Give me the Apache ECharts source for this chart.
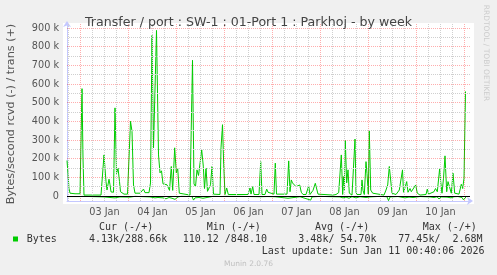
<!DOCTYPE html>
<html><head><meta charset="utf-8">
<script src="https://cdn.jsdelivr.net/npm/echarts@6/dist/echarts.min.js"></script>
<style>html,body{margin:0;padding:0;background:#f0f0f0}#c{width:497px;height:275px}</style>
</head><body><div id="c"></div>
<script>
// time in hours since 03 Jan 00:00, values in k (1000) bytes/second
const transHours = [-6.75,-6.25,-5.75,-5.25,-2.75,-0.25,0.25,0.75,1.25,1.75,2.75,3.25,7.25,10.25,10.75,11.75,12.75,13.25,14.25,14.75,15.25,16,16.5,17.25,18,18.75,19.5,20,20.75,21.75,22.75,23.5,24.25,25,25.75,26.5,27.25,29.75,31.5,32.25,34.25,35,35.75,36.5,38,39,39.75,40.5,41.25,42.25,43.25,44.5,45.4,46.1,47.1,47.9,48.6,49.4,50.25,54.75,55.5,56,56.75,57.5,58.25,59,59.75,60.6,61.4,62,62.75,63.5,64.25,65,65.75,66.5,69.75,70.25,71,71.6,72.25,73.1,73.9,77.75,78.25,83.75,84.75,85.25,86.1,86.75,89.25,90.1,90.75,92.25,93.1,93.75,94.75,96.75,97.4,98,103.25,104.1,104.75,105.4,106,106.75,107.75,108.75,109.6,110.4,111.25,112.75,114.1,114.75,116.25,117.4,118.75,126.25,127.1,127.75,129.1,130.4,131.1,131.4,131.9,132.4,133.1,133.75,134.4,135.25,135.75,136.5,137.25,137.75,138.25,140.25,140.75,141.25,141.9,142.75,143.25,143.9,144.4,145.1,146.1,151.75,152.75,153.6,154.4,155.25,155.75,157.75,159.4,161,161.5,162.25,163.1,163.75,164.75,165.4,166.25,167.6,168.4,169.75,172.75,173.4,174,176.75,177.5,178.4,179.6,180.1,180.75,181.5,182.25,183.1,183.75,184.6,185.4,186.25,187.1,189.25,190.4,191.1,191.75,192.5];
const transK = [190,120,40,15,12,12,15,575,200,5,15,5,5,5,8,220,77,32,90,60,22,30,20,472,120,150,77,23,15,10,20,10,12,400,346,59,15,15,37,18,18,70,860,258,887,220,124,135,65,56,60,30,158,30,258,124,149,15,5,5,8,727,65,50,140,110,100,247,160,40,150,25,25,60,158,10,8,258,382,170,8,43,8,8,12,8,43,10,50,8,8,184,8,8,37,20,10,10,176,10,10,188,23,86,70,80,50,47,59,20,8,8,54,8,30,68,10,5,10,8,18,220,8,104,30,297,70,140,15,20,5,15,305,20,8,8,86,30,8,184,120,10,350,32,15,5,32,59,158,150,15,8,32,140,20,45,77,20,40,23,30,59,15,5,8,37,10,23,40,23,149,77,15,95,215,23,77,86,15,122,15,10,63,40,95,560];
const rcvdHours = [-6.75,-0.25,0.75,1.75,11.75,14.75,17.25,19.75,24.75,27.25,34.75,35.75,37.25,38.75,39.75,41.25,42.75,44.25,45.75,47.25,48.75,50.25,55.75,56.5,57.25,58.25,59.25,60.25,61.25,62.25,63.25,64.75,66.25,70.75,71.5,72.25,79.75,84.75,89.75,93.25,97.25,103.75,104.75,109.75,115.1,115.75,119.75,129.75,131.25,132.75,134.25,135.75,137.75,139.75,142.75,144.75,149.75,153.25,154,154.75,158.75,162.25,163.25,164.25,166.25,169.75,174.75,176.75,178.25,179.25,180.25,183.25,185.25,186.75,188.75,190.75,191.5,192.75];
const rcvdK = [-3,-3,-8,-2,-5,-8,-10,-5,-6,-2,-5,-15,-10,-8,-12,-10,-15,-8,-12,-18,-5,-2,-3,-22,-10,-15,-8,-16,-12,-18,-8,-5,-2,-3,-10,-2,-2,-3,-4,-3,-4,-12,-5,-4,-22,-5,-2,-5,-10,-6,-12,-4,-10,-4,-8,-5,-2,-4,-25,-5,-3,-10,-16,-6,-8,-3,-5,-8,-4,-16,-5,-6,-10,-4,-3,-8,-21,-5];

const yTicks = [0,100000,200000,300000,400000,500000,600000,700000,800000,900000];
const yTickLabels = ['0','100 k','200 k','300 k','400 k','500 k','600 k','700 k','800 k','900 k'];
const yMinor = [50000,150000,250000,350000,450000,550000,650000,750000,850000];
const dayNoon = [12,36,60,84,108,132,156,180];
const dayLabels = ['03 Jan','04 Jan','05 Jan','06 Jan','07 Jan','08 Jan','09 Jan','10 Jan'];
const dayMidnight = [0,24,48,72,96,120,144,168,192];
const sixHour = [-6,6,12,18,30,36,42,54,60,66,78,84,90,102,108,114,126,132,138,150,156,162,174,180,186];

const titleText = 'Transfer / port : SW-1 : 01-Port 1 : Parkhoj - by week';
const yName = 'Bytes/second rcvd (-) / trans (+)';
const legendHeaders = ['Cur (-/+)','Min (-/+)','Avg (-/+)','Max (-/+)'];
const seriesName = 'Bytes';
const legendValues = ['4.13k/288.66k','110.12 /848.10','3.48k/ 54.70k','77.45k/  2.68M'];
const lastUpdate = 'Last update: Sun Jan 11 00:40:06 2026';
const muninVer = 'Munin 2.0.76';
const rrdText = 'RRDTOOL / TOBI OETIKER';

const GREEN = '#00cc00';
const RED = 'rgba(255,0,0,0.32)';
const GRAY = '#cfcfcf';
const AXIS = '#c4c8ff';

const gridLines = [];
yMinor.forEach(v => gridLines.push({yAxis: v, lineStyle: {color: GRAY, type: 'dotted', width: 1}}));
yTicks.slice(1).forEach(v => gridLines.push({yAxis: v, lineStyle: {color: RED, type: 'dotted', width: 1}}));
sixHour.forEach(v => gridLines.push({xAxis: v, lineStyle: {color: GRAY, type: 'dotted', width: 1}}));
dayMidnight.forEach(v => gridLines.push({xAxis: v, lineStyle: {color: RED, type: 'dotted', width: 1}}));

const mono = '10px "DejaVu Sans Mono"';
const headX = [99, 206.7, 315, 422.7];
const valX = [89, 182.7, 298.3, 398.3];
const graphics = [
  {type: 'rect', z: -100, shape: {x: 63, y: 23, width: 411, height: 181}, style: {fill: '#ffffff'}},
  {type: 'text', x: 11, y: 114, rotation: Math.PI/2, style: {text: yName, font: '11.2px "DejaVu Sans"', fill: '#555', align: 'center', verticalAlign: 'middle'}},
  {type: 'text', x: 486, y: 53, rotation: -Math.PI/2, style: {text: rrdText, font: '7.5px "DejaVu Sans"', fill: '#cccccc', align: 'center', verticalAlign: 'middle'}},
  {type: 'rect', shape: {x: 13, y: 236.5, width: 5, height: 5}, style: {fill: GREEN}},
  {type: 'text', x: 26.7, y: 239.3, style: {text: seriesName, font: mono, fill: '#333', verticalAlign: 'middle'}},
  {type: 'text', x: 261.7, y: 251.7, style: {text: lastUpdate, font: mono, fill: '#333', verticalAlign: 'middle'}},
  {type: 'text', x: 248.5, y: 264, style: {text: muninVer, font: '7.5px "DejaVu Sans"', fill: '#c0c0c0', align: 'center', verticalAlign: 'middle'}}
];
legendHeaders.forEach((t, i) => graphics.push({type: 'text', x: headX[i], y: 227.3, style: {text: t, font: mono, fill: '#333', verticalAlign: 'middle'}}));
legendValues.forEach((t, i) => graphics.push({type: 'text', x: valX[i], y: 239.3, style: {text: t, font: mono, fill: '#333', verticalAlign: 'middle'}}));

const chart = echarts.init(document.getElementById('c'), null, {renderer: 'canvas'});
chart.setOption({
  animation: false,
  backgroundColor: '#f0f0f0',
  title: {text: titleText, left: 'center', top: 11, textStyle: {fontFamily: 'DejaVu Sans', fontSize: 12.6, fontWeight: 'normal', color: '#444'}},
  grid: {left: 67, right: 27, top: 24, bottom: 74},
  xAxis: {
    type: 'value', min: -6.75, max: 194.75,
    axisLine: {show: true, onZero: false, lineStyle: {color: AXIS, width: 1}, symbol: ['none', 'arrow'], symbolSize: [6, 6], symbolOffset: [0, 3]},
    axisTick: {show: false},
    splitLine: {show: false},
    axisLabel: {customValues: dayNoon, formatter: v => dayLabels[dayNoon.indexOf(v)], fontFamily: 'DejaVu Sans', fontSize: 9.7, color: '#555', margin: 6}
  },
  yAxis: {
    type: 'value', min: -26800, max: 921400,
    axisLine: {show: true, onZero: false, lineStyle: {color: AXIS, width: 1}, symbol: ['none', 'arrow'], symbolSize: [6, 6], symbolOffset: [0, 3]},
    axisTick: {show: false},
    splitLine: {show: false},
    axisLabel: {customValues: yTicks, formatter: v => yTickLabels[yTicks.indexOf(v)], fontFamily: 'DejaVu Sans', fontSize: 9.7, color: '#555', margin: 8}
  },
  series: [
    {type: 'line', data: [], silent: true, z: 1,
      markLine: {silent: true, symbol: 'none', label: {show: false}, data: gridLines, animation: false}},
    {name: 'trans', type: 'line', data: transHours.map((h, i) => [h, transK[i] * 1000]), showSymbol: false, lineStyle: {color: GREEN, width: 1}, itemStyle: {color: GREEN}, z: 3},
    {name: 'rcvd', type: 'line', data: rcvdHours.map((h, i) => [h, rcvdK[i] * 1000]), showSymbol: false, lineStyle: {color: GREEN, width: 1}, itemStyle: {color: GREEN}, z: 3},
    {type: 'line', data: [], silent: true, z: 4,
      markLine: {silent: true, symbol: 'none', label: {show: false}, data: [{yAxis: 0, lineStyle: {color: '#000', type: 'solid', width: 1}}], animation: false}}
  ],
  graphic: graphics
});
</script></body></html>
